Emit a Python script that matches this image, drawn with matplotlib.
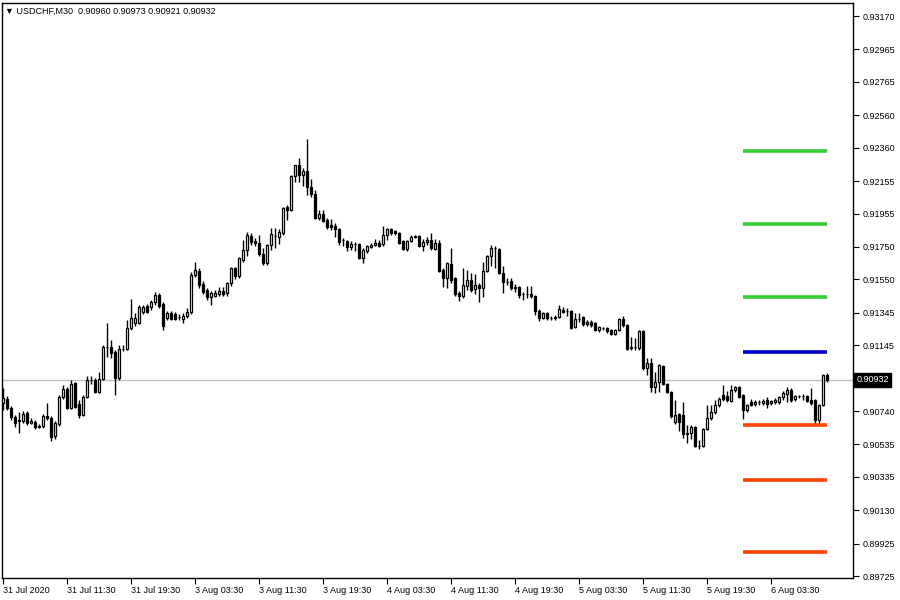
import numpy as np
import matplotlib
matplotlib.use("Agg")
import matplotlib.pyplot as plt

plt.rcParams['font.family'] = ['Liberation Sans', 'DejaVu Sans']

# USDCHF M30 candles
open_ = [0.90790, 0.90814, 0.90759, 0.90703, 0.90679, 0.90679, 0.90728, 0.90667, 0.90673, 0.90642,
         0.90648, 0.90710, 0.90697, 0.90587, 0.90660, 0.90826, 0.90876, 0.90759, 0.90913, 0.90783,
         0.90716, 0.90826, 0.90931, 0.90931, 0.90857, 0.90937, 0.91134, 0.91134, 0.91103, 0.90943,
         0.91122, 0.91122, 0.91251, 0.91282, 0.91282, 0.91349, 0.91386, 0.91380, 0.91411, 0.91454,
         0.91398, 0.91312, 0.91343, 0.91337, 0.91318, 0.91306, 0.91325, 0.91349, 0.91577, 0.91601,
         0.91521, 0.91485, 0.91441, 0.91448, 0.91460, 0.91478, 0.91466, 0.91528, 0.91620, 0.91571,
         0.91669, 0.91731, 0.91817, 0.91786, 0.91774, 0.91706, 0.91651, 0.91761, 0.91817, 0.91810,
         0.91835, 0.91995, 0.91977, 0.92186, 0.92253, 0.92192, 0.92216, 0.92118, 0.92075, 0.91927,
         0.91952, 0.91915, 0.91884, 0.91878, 0.91860, 0.91792, 0.91786, 0.91749, 0.91767, 0.91767,
         0.91681, 0.91724, 0.91749, 0.91761, 0.91774, 0.91767, 0.91823, 0.91860, 0.91847, 0.91835,
         0.91786, 0.91737, 0.91786, 0.91810, 0.91817, 0.91755, 0.91780, 0.91792, 0.91737, 0.91774,
         0.91608, 0.91558, 0.91644, 0.91558, 0.91466, 0.91448, 0.91509, 0.91546, 0.91491, 0.91515,
         0.91497, 0.91601, 0.91694, 0.91743, 0.91737, 0.91589, 0.91534, 0.91540, 0.91503, 0.91503,
         0.91460, 0.91460, 0.91460, 0.91448, 0.91355, 0.91312, 0.91343, 0.91312, 0.91312, 0.91318,
         0.91362, 0.91355, 0.91355, 0.91257, 0.91306, 0.91318, 0.91275, 0.91288, 0.91282, 0.91239,
         0.91251, 0.91251, 0.91239, 0.91214, 0.91239, 0.91306, 0.91269, 0.91128, 0.91134, 0.91128,
         0.91232, 0.91005, 0.91036, 0.90888, 0.90919, 0.91017, 0.90906, 0.90857, 0.90673, 0.90722,
         0.90716, 0.90605, 0.90605, 0.90642, 0.90525, 0.90525, 0.90630, 0.90697, 0.90734, 0.90777,
         0.90839, 0.90833, 0.90802, 0.90870, 0.90888, 0.90839, 0.90747, 0.90796, 0.90783, 0.90796,
         0.90790, 0.90808, 0.90790, 0.90796, 0.90796, 0.90826, 0.90845, 0.90870, 0.90814, 0.90833,
         0.90833, 0.90833, 0.90808, 0.90808, 0.90685, 0.90777, 0.90960]
high = [0.90882, 0.90833, 0.90771, 0.90716, 0.90734, 0.90740, 0.90740, 0.90697, 0.90685, 0.90660,
        0.90722, 0.90790, 0.90710, 0.90679, 0.90839, 0.90900, 0.90888, 0.90931, 0.90919, 0.90808,
        0.90839, 0.90956, 0.90956, 0.90943, 0.90980, 0.91146, 0.91282, 0.91177, 0.91116, 0.91146,
        0.91146, 0.91300, 0.91429, 0.91343, 0.91392, 0.91392, 0.91398, 0.91423, 0.91472, 0.91466,
        0.91411, 0.91355, 0.91355, 0.91349, 0.91337, 0.91343, 0.91374, 0.91595, 0.91657, 0.91620,
        0.91540, 0.91497, 0.91478, 0.91485, 0.91503, 0.91503, 0.91534, 0.91626, 0.91626, 0.91687,
        0.91792, 0.91841, 0.91835, 0.91804, 0.91823, 0.91743, 0.91767, 0.91866, 0.91866, 0.91860,
        0.91995, 0.92007, 0.92192, 0.92253, 0.92296, 0.92235, 0.92413, 0.92167, 0.92100, 0.91977,
        0.91977, 0.91927, 0.91921, 0.91897, 0.91866, 0.91804, 0.91792, 0.91786, 0.91780, 0.91774,
        0.91743, 0.91761, 0.91774, 0.91798, 0.91792, 0.91878, 0.91866, 0.91866, 0.91854, 0.91841,
        0.91792, 0.91792, 0.91823, 0.91823, 0.91823, 0.91798, 0.91810, 0.91835, 0.91798, 0.91792,
        0.91620, 0.91657, 0.91743, 0.91564, 0.91478, 0.91620, 0.91608, 0.91589, 0.91583, 0.91528,
        0.91657, 0.91700, 0.91761, 0.91755, 0.91743, 0.91632, 0.91558, 0.91558, 0.91521, 0.91509,
        0.91472, 0.91509, 0.91509, 0.91454, 0.91368, 0.91349, 0.91349, 0.91325, 0.91331, 0.91392,
        0.91380, 0.91374, 0.91362, 0.91343, 0.91343, 0.91325, 0.91300, 0.91300, 0.91288, 0.91263,
        0.91257, 0.91257, 0.91245, 0.91245, 0.91312, 0.91325, 0.91275, 0.91195, 0.91189, 0.91239,
        0.91239, 0.91066, 0.91066, 0.90980, 0.91029, 0.91023, 0.90913, 0.90863, 0.90808, 0.90728,
        0.90796, 0.90654, 0.90654, 0.90648, 0.90562, 0.90636, 0.90777, 0.90777, 0.90808, 0.90826,
        0.90900, 0.90863, 0.90900, 0.90894, 0.90894, 0.90845, 0.90783, 0.90814, 0.90808, 0.90808,
        0.90814, 0.90826, 0.90808, 0.90820, 0.90833, 0.90863, 0.90888, 0.90882, 0.90839, 0.90839,
        0.90845, 0.90839, 0.90882, 0.90814, 0.90783, 0.90968, 0.90973]
low = [0.90747, 0.90747, 0.90685, 0.90642, 0.90605, 0.90667, 0.90654, 0.90660, 0.90630, 0.90636,
       0.90636, 0.90685, 0.90556, 0.90568, 0.90648, 0.90814, 0.90753, 0.90753, 0.90759, 0.90697,
       0.90710, 0.90820, 0.90906, 0.90851, 0.90851, 0.90931, 0.91072, 0.91066, 0.90839, 0.90931,
       0.91109, 0.91116, 0.91239, 0.91263, 0.91275, 0.91337, 0.91343, 0.91362, 0.91392, 0.91374,
       0.91239, 0.91300, 0.91300, 0.91300, 0.91300, 0.91282, 0.91312, 0.91337, 0.91564, 0.91497,
       0.91460, 0.91423, 0.91392, 0.91441, 0.91448, 0.91448, 0.91448, 0.91509, 0.91552, 0.91558,
       0.91657, 0.91694, 0.91761, 0.91755, 0.91694, 0.91638, 0.91638, 0.91731, 0.91743, 0.91767,
       0.91823, 0.91915, 0.91970, 0.92149, 0.92149, 0.92124, 0.92069, 0.92056, 0.91921, 0.91915,
       0.91903, 0.91860, 0.91854, 0.91810, 0.91761, 0.91755, 0.91724, 0.91731, 0.91724, 0.91675,
       0.91651, 0.91712, 0.91743, 0.91755, 0.91749, 0.91755, 0.91792, 0.91823, 0.91823, 0.91767,
       0.91731, 0.91724, 0.91780, 0.91804, 0.91749, 0.91724, 0.91761, 0.91731, 0.91731, 0.91595,
       0.91503, 0.91497, 0.91528, 0.91448, 0.91417, 0.91435, 0.91485, 0.91472, 0.91460, 0.91411,
       0.91441, 0.91595, 0.91632, 0.91620, 0.91583, 0.91466, 0.91515, 0.91485, 0.91472, 0.91435,
       0.91423, 0.91435, 0.91435, 0.91331, 0.91294, 0.91306, 0.91300, 0.91300, 0.91300, 0.91312,
       0.91343, 0.91325, 0.91245, 0.91251, 0.91288, 0.91263, 0.91263, 0.91257, 0.91232, 0.91226,
       0.91239, 0.91220, 0.91208, 0.91208, 0.91232, 0.91257, 0.91116, 0.91116, 0.91116, 0.91116,
       0.90993, 0.90962, 0.90857, 0.90851, 0.90857, 0.90900, 0.90851, 0.90697, 0.90660, 0.90617,
       0.90574, 0.90544, 0.90568, 0.90519, 0.90507, 0.90519, 0.90624, 0.90685, 0.90722, 0.90765,
       0.90802, 0.90796, 0.90796, 0.90857, 0.90820, 0.90691, 0.90734, 0.90771, 0.90771, 0.90777,
       0.90777, 0.90759, 0.90777, 0.90783, 0.90783, 0.90808, 0.90796, 0.90796, 0.90802, 0.90820,
       0.90808, 0.90796, 0.90777, 0.90654, 0.90654, 0.90771, 0.90921]
close = [0.90820, 0.90759, 0.90703, 0.90667, 0.90685, 0.90722, 0.90667, 0.90679, 0.90642, 0.90648,
         0.90710, 0.90697, 0.90580, 0.90667, 0.90826, 0.90876, 0.90759, 0.90906, 0.90765, 0.90716,
         0.90826, 0.90931, 0.90933, 0.90857, 0.90937, 0.91134, 0.91136, 0.91097, 0.90943, 0.91122,
         0.91124, 0.91251, 0.91312, 0.91312, 0.91380, 0.91380, 0.91349, 0.91411, 0.91454, 0.91386,
         0.91263, 0.91343, 0.91306, 0.91306, 0.91320, 0.91325, 0.91349, 0.91577, 0.91608, 0.91515,
         0.91472, 0.91441, 0.91466, 0.91466, 0.91478, 0.91460, 0.91528, 0.91620, 0.91571, 0.91681,
         0.91731, 0.91823, 0.91780, 0.91774, 0.91706, 0.91651, 0.91761, 0.91829, 0.91815, 0.91841,
         0.91989, 0.91977, 0.92186, 0.92253, 0.92192, 0.92216, 0.92118, 0.92075, 0.91927, 0.91952,
         0.91909, 0.91872, 0.91872, 0.91860, 0.91780, 0.91790, 0.91749, 0.91767, 0.91765, 0.91681,
         0.91731, 0.91755, 0.91761, 0.91774, 0.91755, 0.91823, 0.91860, 0.91835, 0.91835, 0.91774,
         0.91737, 0.91786, 0.91810, 0.91817, 0.91755, 0.91780, 0.91792, 0.91743, 0.91774, 0.91601,
         0.91558, 0.91651, 0.91546, 0.91460, 0.91448, 0.91515, 0.91546, 0.91485, 0.91515, 0.91497,
         0.91601, 0.91694, 0.91743, 0.91745, 0.91589, 0.91534, 0.91532, 0.91497, 0.91497, 0.91454,
         0.91458, 0.91462, 0.91448, 0.91355, 0.91312, 0.91343, 0.91312, 0.91314, 0.91318, 0.91368,
         0.91349, 0.91357, 0.91251, 0.91306, 0.91308, 0.91275, 0.91288, 0.91269, 0.91239, 0.91257,
         0.91249, 0.91232, 0.91214, 0.91239, 0.91306, 0.91269, 0.91122, 0.91134, 0.91132, 0.91232,
         0.91005, 0.91036, 0.90888, 0.90919, 0.91023, 0.90906, 0.90857, 0.90710, 0.90716, 0.90673,
         0.90599, 0.90599, 0.90642, 0.90525, 0.90523, 0.90630, 0.90697, 0.90734, 0.90777, 0.90814,
         0.90814, 0.90808, 0.90870, 0.90888, 0.90826, 0.90747, 0.90777, 0.90777, 0.90796, 0.90794,
         0.90802, 0.90783, 0.90802, 0.90808, 0.90826, 0.90851, 0.90870, 0.90808, 0.90833, 0.90831,
         0.90835, 0.90802, 0.90790, 0.90685, 0.90777, 0.90962, 0.90932]

# horizontal levels drawn by the indicator
levels = [0.92339, 0.91890, 0.91441, 0.91103, 0.90654, 0.90316, 0.89873]
level_colors = ['#33cc33', '#33cc33', '#33cc33', '#0000cc', '#ff4500', '#ff4500', '#ff4500']
level_from, level_to = 185, 206

ytick_vals = [0.93170, 0.92965, 0.92765, 0.92560, 0.92360, 0.92155, 0.91955, 0.91750, 0.91550,
              0.91345, 0.91145, 0.90740, 0.90535, 0.90335, 0.90130, 0.89925, 0.89725]
xtick_bars = [0, 16, 32, 48, 64, 80, 96, 112, 128, 144, 160, 176, 192]
xtick_labels = ['31 Jul 2020', '31 Jul 11:30', '31 Jul 19:30', '3 Aug 03:30', '3 Aug 11:30',
                '3 Aug 19:30', '4 Aug 03:30', '4 Aug 11:30', '4 Aug 19:30', '5 Aug 03:30',
                '5 Aug 11:30', '5 Aug 19:30', '6 Aug 03:30']

o = np.array(open_)
h = np.array(high)
l = np.array(low)
c = np.array(close)
x = np.arange(len(c))

fig = plt.figure(figsize=(9, 6), dpi=100)
ax = fig.add_axes([2/900, 22/600, 851/900, 575/600])

# current price line
ax.axhline(c[-1], color='#c0c0c0', lw=1, zorder=1)

# wicks
ax.vlines(x, l, h, color='black', lw=1, zorder=2)

# bodies
up = c >= o
body_h = np.maximum(np.abs(c - o), 0.00002)
ax.bar(x[up], body_h[up], bottom=o[up], width=0.5, color='white',
       edgecolor='black', linewidth=0.9, zorder=3)
ax.bar(x[~up], body_h[~up], bottom=c[~up], width=0.5, color='black',
       edgecolor='black', linewidth=0.9, zorder=3)

# levels
ax.hlines(levels, level_from, level_to, colors=level_colors, lw=2.6, zorder=4)

ax.set_xlim(-0.25, 212.5)
ax.set_ylim(0.89713, 0.93250)

ax.yaxis.tick_right()
ax.set_yticks(ytick_vals)
ax.set_yticklabels(['%.5f' % v for v in ytick_vals])
ax.tick_params(axis='y', direction='out', length=4, labelsize=6.5, pad=3)
ax.set_xticks(xtick_bars)
ax.set_xticklabels(xtick_labels, ha='left')
ax.tick_params(axis='x', direction='out', length=4, labelsize=6.5, pad=2)
for s in ax.spines.values():
    s.set_color('black')
    s.set_linewidth(1)

# price label on the right axis
ax.text(1.004, c[-1], '%.5f' % c[-1], transform=ax.get_yaxis_transform(),
        fontsize=6.5, color='white', va='center', ha='left',
        bbox=dict(boxstyle='square,pad=0.25', fc='black', ec='black'))

ax.text(0.004, 0.993, '\u25bc USDCHF,M30  0.90960 0.90973 0.90921 0.90932',
        transform=ax.transAxes, fontsize=6.5, va='top', ha='left',
        family=['Liberation Sans', 'DejaVu Sans'])

fig.savefig('out.png', dpi=100)
